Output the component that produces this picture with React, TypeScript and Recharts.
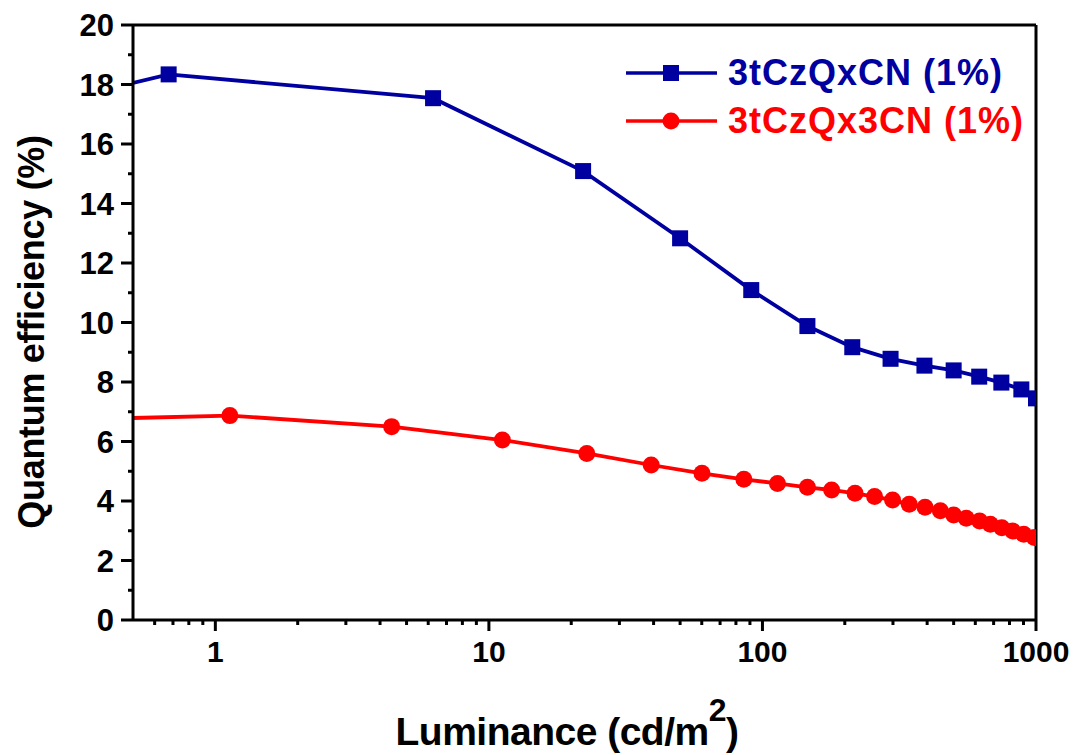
import React from "react";
import {
  LineChart,
  Line,
  XAxis,
  YAxis,
  Legend,
  ReferenceLine,
} from "recharts";

// luminance (cd/m2) and EQE (%)
// first point of each series sits on the left edge of the plot (marker hidden there)
const blueLum = [0.5, 0.675, 6.25, 22.1, 50, 91, 146, 213, 294, 391, 500, 620, 747, 884, 1000];
const blueEqe = [18.05, 18.34, 17.54, 15.09, 12.83, 11.09, 9.88, 9.17, 8.78, 8.55, 8.39, 8.18, 7.98, 7.75, 7.45];

const redLum = [
  0.5, 1.13, 4.41, 11.2, 22.8, 39.2, 60.1, 85.5, 113.5, 146, 179, 218, 257, 299, 344, 393, 447, 500,
  556, 622, 681, 750, 822, 902, 986,
];
const redEqe = [
  6.79, 6.87, 6.5, 6.05, 5.6, 5.21, 4.93, 4.73, 4.59, 4.46, 4.37, 4.26, 4.15, 4.03, 3.89, 3.79, 3.67,
  3.53, 3.42, 3.33, 3.22, 3.1, 2.99, 2.88, 2.77,
];

const xMajor = [1, 10, 100, 1000];
const xAll = [
  0.6, 0.7, 0.8, 0.9, 1, 2, 3, 4, 5, 6, 7, 8, 9, 10, 20, 30, 40, 50, 60, 70, 80, 90, 100, 200, 300,
  400, 500, 600, 700, 800, 900, 1000,
];
const yMajor = [0, 2, 4, 6, 8, 10, 12, 14, 16, 18, 20];
const yAll = [0, 1, 2, 3, 4, 5, 6, 7, 8, 9, 10, 11, 12, 13, 14, 15, 16, 17, 18, 19, 20];

const BLUE = "#0000A0";
const RED = "#FF0000";
const FONT = "'Liberation Sans', Arial, sans-serif";

const series = [
  { name: "3tCzQxCN (1%)", color: BLUE, shape: "square", data: blueLum.map((x, i) => ({ x, y: blueEqe[i] })) },
  { name: "3tCzQx3CN (1%)", color: RED, shape: "circle", data: redLum.map((x, i) => ({ x, y: redEqe[i] })) },
];

const marker = (shape: string, color: string, cx: number, cy: number, key?: any) =>
  shape === "square" ? (
    <rect key={key} x={cx - 8} y={cy - 8} width={16} height={16} fill={color} />
  ) : (
    <circle key={key} cx={cx} cy={cy} r={8.5} fill={color} />
  );

const makeDot = (shape: string, color: string) => (props: any) => {
  const { cx, cy, index } = props;
  if (index === 0 || cx == null || cy == null) return <g key={index} />;
  return marker(shape, color, cx, cy, index);
};

const XTick = (props: any) => {
  const { x, y, payload } = props;
  const major = xMajor.includes(payload.value);
  return (
    <g>
      <line x1={x} x2={x} y1={y} y2={y + (major ? 11 : 5)} stroke="#000" strokeWidth={3} />
      {major && (
        <text x={x} y={y + 42} textAnchor="middle" fontSize={30} fontWeight="bold" fontFamily={FONT} fill="#000">
          {payload.value}
        </text>
      )}
    </g>
  );
};

const YTick = (props: any) => {
  const { x, y, payload } = props;
  const major = yMajor.includes(payload.value);
  return (
    <g>
      <line x1={x - (major ? 12 : 5)} x2={x} y1={y} y2={y} stroke="#000" strokeWidth={3} />
      {major && (
        <text x={x - 19} y={y} dy="0.36em" textAnchor="end" fontSize={31} fontWeight="bold" fontFamily={FONT} fill="#000">
          {payload.value}
        </text>
      )}
    </g>
  );
};

const RTick = (props: any) => {
  const { x, y, payload } = props;
  const major = yMajor.includes(payload.value);
  return <line x1={x} x2={x + (major ? 7 : 4)} y1={y} y2={y} stroke="#000" strokeWidth={2.5} />;
};

const renderLegend = () => (
  <div style={{ fontFamily: FONT, fontWeight: "bold", fontSize: 36, letterSpacing: 1 }}>
    {series.map((s) => (
      <div key={s.name} style={{ display: "flex", alignItems: "center", height: 48 }}>
        <svg width={91} height={20} style={{ display: "block" }}>
          <line x1={0} x2={91} y1={10} y2={10} stroke={s.color} strokeWidth={3.5} />
          {marker(s.shape, s.color, 45, 10)}
        </svg>
        <span style={{ color: s.color, marginLeft: 11, lineHeight: "48px", whiteSpace: "nowrap" }}>{s.name}</span>
      </div>
    ))}
  </div>
);

export default function App() {
  return (
    <div style={{ position: "absolute", left: 0, top: 0, width: 1077, height: 755, background: "#fff" }}>
      <LineChart width={1077} height={755} margin={{ top: 25, right: 21, bottom: 35, left: 33 }}>
        <XAxis
          dataKey="x"
          type="number"
          scale="log"
          domain={[0.5, 1000]}
          allowDataOverflow
          ticks={xAll}
          interval={0}
          tick={XTick}
          tickSize={0}
          tickMargin={0}
          tickLine={false}
          height={100}
          axisLine={{ stroke: "#000", strokeWidth: 3 }}
          label={{
            content: () => (
              <text x={567} y={745} textAnchor="middle" fontSize={39} fontWeight="bold" fontFamily={FONT} fill="#000" letterSpacing={-0.5}>
                <tspan>Luminance (cd/m</tspan>
                <tspan dy={-24} fontSize={32}>2</tspan>
                <tspan dy={24}>)</tspan>
              </text>
            ),
          }}
        />
        <YAxis
          type="number"
          domain={[0, 20]}
          ticks={yAll}
          interval={0}
          tick={YTick}
          tickSize={0}
          tickMargin={0}
          tickLine={false}
          width={100}
          axisLine={{ stroke: "#000", strokeWidth: 3 }}
          label={{
            content: () => (
              <text
                x={31}
                y={332}
                transform="rotate(-90 31 332)"
                dy="0.35em"
                textAnchor="middle"
                fontSize={36}
                fontWeight="bold"
                fontFamily={FONT}
                fill="#000"
                letterSpacing={-0.3}
              >
                Quantum efficiency (%)
              </text>
            ),
          }}
        />
        <YAxis
          yAxisId="right"
          orientation="right"
          type="number"
          domain={[0, 20]}
          ticks={yAll}
          interval={0}
          tick={RTick}
          tickSize={0}
          tickMargin={0}
          tickLine={false}
          width={20}
          axisLine={{ stroke: "#000", strokeWidth: 3 }}
        />
        <ReferenceLine y={20} stroke="#000" strokeWidth={3} />
        {series.map((s) => (
          <Line
            key={s.name}
            data={s.data}
            dataKey="y"
            name={s.name}
            type="linear"
            stroke={s.color}
            strokeWidth={3.8}
            dot={makeDot(s.shape, s.color)}
            activeDot={false}
            isAnimationActive={false}
          />
        ))}
        <Legend
          layout="horizontal"
          verticalAlign="middle"
          align="center"
          content={renderLegend}
          wrapperStyle={{ left: 626, top: 49, width: 440 }}
        />
      </LineChart>
    </div>
  );
}
